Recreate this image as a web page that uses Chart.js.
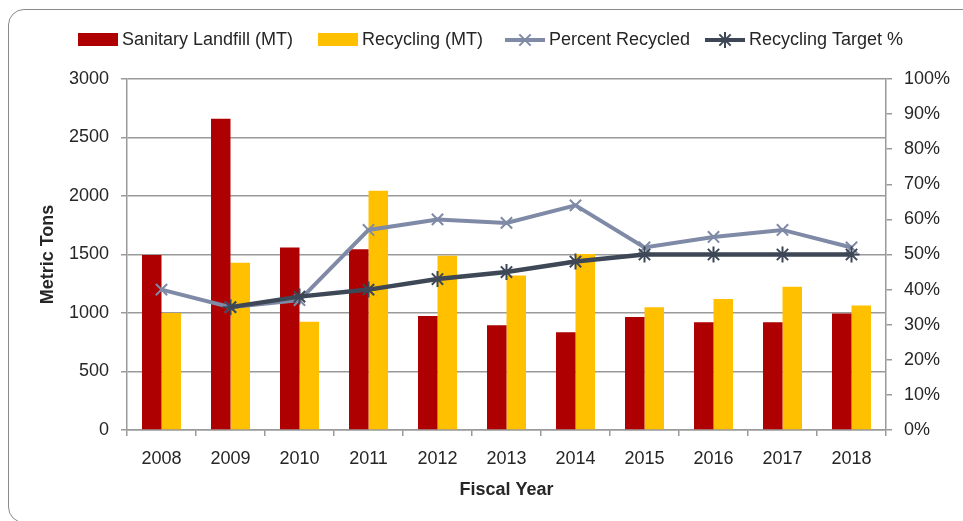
<!DOCTYPE html>
<html>
<head>
<meta charset="utf-8">
<script src="https://cdn.jsdelivr.net/npm/chart.js@4"></script>
<style>
  html, body { margin: 0; padding: 0; background: #fff; }
  #wrap { position: relative; width: 963px; height: 521px; overflow: hidden; }
  #frame {
    position: absolute; left: 8px; top: 9px; width: 1000px; height: 514px;
    border: 1.5px solid #8a8a8a; border-radius: 16px; box-sizing: border-box;
  }
  #chart { position: absolute; left: 0; top: 0; }
</style>
</head>
<body>
<div id="wrap">
  <div id="frame"></div>
  <canvas id="chart" width="963" height="521"></canvas>
</div>
<script>
// --- DATA ---
const years = ['2008', '2009', '2010', '2011', '2012', '2013', '2014', '2015', '2016', '2017', '2018'];
const landfillTons = [1495, 2660, 1560, 1545, 975, 895, 835, 965, 920, 920, 995];
const recyclingTons = [1000, 1430, 925, 2045, 1490, 1320, 1505, 1050, 1120, 1225, 1065];
const percentRecycled = [0.40, 0.35, 0.37, 0.57, 0.60, 0.59, 0.64, 0.52, 0.55, 0.57, 0.52];
const recyclingTarget = [null, 0.35, 0.38, 0.40, 0.43, 0.45, 0.48, 0.50, 0.50, 0.50, 0.50];

const FONT = 'Liberation Sans, Arial, sans-serif';
const TEXT = '#262626';
const GRID = '#9a9a9a';

const colors = {
    landfill: '#ae0000',
    recycling: '#ffc000',
    percent: '#7f8aa6',
    target: '#3d4756'
};

// Excel-style legend drawn on top of the canvas
const legendItems = [
    { text: 'Sanitary Landfill (MT)', kind: 'box', color: colors.landfill, x: 78 },
    { text: 'Recycling (MT)', kind: 'box', color: colors.recycling, x: 318 },
    { text: 'Percent Recycled', kind: 'crossRot', color: colors.percent, x: 505 },
    { text: 'Recycling Target %', kind: 'star', color: colors.target, x: 705 }
];

function drawMarker(ctx, kind, x, y, r) {
    ctx.beginPath();
    const d = r * Math.SQRT1_2;
    ctx.moveTo(x - d, y - d); ctx.lineTo(x + d, y + d);
    ctx.moveTo(x - d, y + d); ctx.lineTo(x + d, y - d);
    if (kind === 'star') {
        ctx.moveTo(x, y - r); ctx.lineTo(x, y + r);
    }
    ctx.stroke();
}

const excelLegend = {
    id: 'excelLegend',
    afterDraw(chart) {
        const ctx = chart.ctx;
        const cy = 40;
        ctx.save();
        ctx.font = '18px ' + FONT;
        ctx.textBaseline = 'middle';
        legendItems.forEach(item => {
            if (item.kind === 'box') {
                ctx.fillStyle = item.color;
                ctx.fillRect(item.x, cy - 7, 40, 13);
            } else {
                ctx.strokeStyle = item.color;
                ctx.lineWidth = 4;
                ctx.beginPath();
                ctx.moveTo(item.x, cy);
                ctx.lineTo(item.x + 40, cy);
                ctx.stroke();
                ctx.lineWidth = 2;
                drawMarker(ctx, item.kind, item.x + 20, cy, 8);
            }
            ctx.fillStyle = TEXT;
            ctx.fillText(item.text, item.x + 44, cy);
        });
        ctx.restore();
    }
};

const ctx = document.getElementById('chart').getContext('2d');
Chart.defaults.font.family = FONT;
Chart.defaults.font.size = 18;
Chart.defaults.color = TEXT;

new Chart(ctx, {
    type: 'bar',
    data: {
        labels: years,
        datasets: [{
            type: 'line',
            label: 'Recycling Target %',
            data: recyclingTarget,
            yAxisID: 'y1',
            borderColor: colors.target,
            borderWidth: 4.5,
            pointStyle: 'star',
            pointRadius: 8,
            pointBorderWidth: 2,
            pointBorderColor: colors.target,
            pointBackgroundColor: colors.target,
            tension: 0,
            order: 0
        }, {
            type: 'line',
            label: 'Percent Recycled',
            data: percentRecycled,
            yAxisID: 'y1',
            borderColor: colors.percent,
            borderWidth: 4,
            pointStyle: 'crossRot',
            pointRadius: 8,
            pointBorderWidth: 2,
            pointBorderColor: colors.percent,
            tension: 0,
            order: 1
        }, {
            label: 'Sanitary Landfill (MT)',
            data: landfillTons,
            backgroundColor: colors.landfill,
            categoryPercentage: 0.565,
            barPercentage: 1.0,
            order: 2
        }, {
            label: 'Recycling (MT)',
            data: recyclingTons,
            backgroundColor: colors.recycling,
            categoryPercentage: 0.565,
            barPercentage: 1.0,
            order: 2
        }]
    },
    options: {
        responsive: false,
        animation: false,
        layout: { padding: { top: 79, left: 0, right: 0, bottom: 0 } },
        plugins: {
            legend: { display: false },
            tooltip: { enabled: false }
        },
        scales: {
            x: {
                offset: true,
                grid: { offset: true, drawOnChartArea: false, color: GRID, lineWidth: 1.5, tickLength: 6 },
                border: { color: GRID, width: 1.5 },
                ticks: { padding: 12, maxRotation: 0 },
                title: { display: true, text: 'Fiscal Year', font: { size: 18, weight: 'bold' }, padding: { top: 0, bottom: 20 } },
                afterFit: s => { s.height = 91; }
            },
            y: {
                position: 'left',
                min: 0, max: 3000,
                ticks: { stepSize: 500, padding: 12, callback: v => String(v) },
                grid: { color: GRID, lineWidth: 1.5, tickLength: 6 },
                border: { color: GRID, width: 1.5 },
                title: { display: true, text: 'Metric Tons', font: { size: 18, weight: 'bold' }, padding: { top: 37, bottom: 0 } },
                afterFit: s => { s.width = 127; }
            },
            y1: {
                position: 'right',
                min: 0, max: 1,
                ticks: { stepSize: 0.1, padding: 12, callback: v => Math.round(v * 100) + '%' },
                grid: { drawOnChartArea: false, color: GRID, lineWidth: 1.5, tickLength: 6 },
                border: { color: GRID, width: 1.5 },
                afterFit: s => { s.width = 77; }
            }
        }
    },
    plugins: [excelLegend]
});
</script>
</body>
</html>
